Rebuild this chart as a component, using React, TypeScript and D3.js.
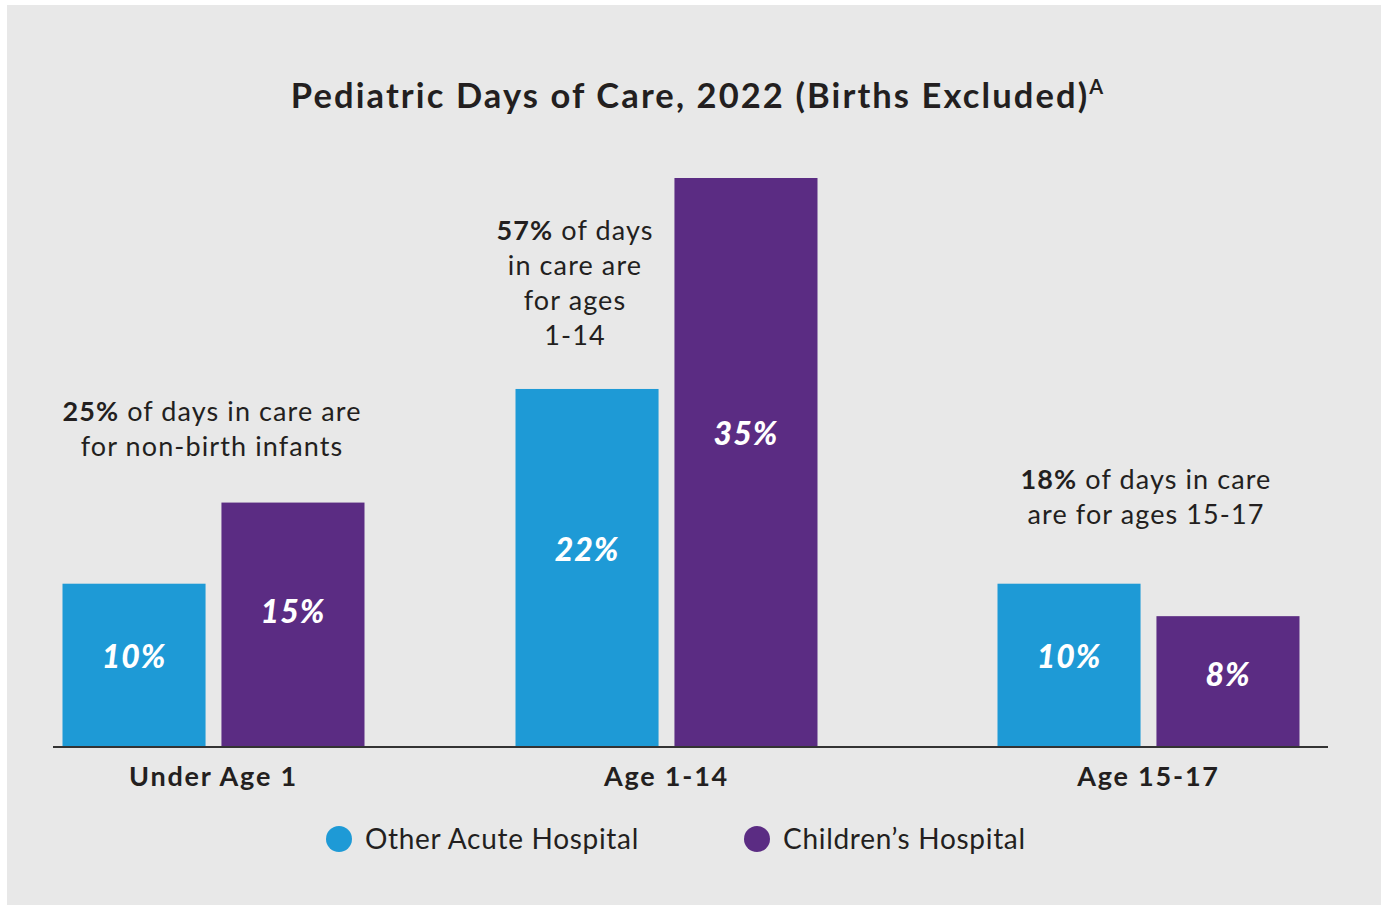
import React from "react";
import * as d3 from "d3";

const categories = ["Under Age 1", "Age 1-14", "Age 15-17"];
const seriesNames = ["Other Acute Hospital", "Children\u2019s Hospital"];
const otherAcute = [10, 22, 10];
const childrens = [15, 35, 8];
const annotationBold = ["25%", "57%", "18%"];
const annotationLines = [
  [" of days in care are", "for non-birth infants"],
  [" of days", "in care are", "for ages", "1-14"],
  [" of days in care", "are for ages 15-17"],
];

const W = 1383;
const H = 905;
const FONT = "Lato, 'Open Sans', sans-serif";
const TEXT = "#231f20";
const COLORS = ["#1e9ad6", "#5b2c83"];

export default function App() {
  const baseY = 746;
  const y = d3.scaleLinear().domain([0, 35]).range([baseY, 178]);
  const groupX = d3.scaleOrdinal<string, number>().domain(categories).range([213.5, 666.5, 1148.5]);
  const inner = d3.scaleBand().domain(["0", "1"]).range([-151, 151]).paddingInner(0.1).paddingOuter(0);
  const bw = inner.bandwidth();
  const series = [otherAcute, childrens];
  const fmt = (v: number) => `${v}%`;

  const annoPos = [
    { x: 212, y: 421 },
    { x: 575, y: 240 },
    { x: 1146, y: 489 },
  ];

  return (
    <svg width={W} height={H} style={{ position: "absolute", left: 0, top: 0 }}>
      <rect x={0} y={0} width={W} height={H} fill="#ffffff" />
      <rect x={7} y={5} width={1374} height={900} fill="#e8e8e8" />
      <text x={697} y={108} textAnchor="middle" fontFamily={FONT} fontWeight={700} fontSize={34.5} letterSpacing={2.1} fill={TEXT}>
        Pediatric Days of Care, 2022 (Births Excluded)
        <tspan fontSize={20} dy={-14} letterSpacing={0}>A</tspan>
      </text>
      {categories.map((c, ci) =>
        series.map((s, si) => {
          const x0 = groupX(c) + (inner(String(si)) as number);
          const v = s[ci];
          return (
            <g key={c + si}>
              <rect x={x0} y={y(v)} width={bw} height={baseY - y(v)} fill={COLORS[si]} />
              <text
                x={x0 + bw / 2}
                y={y(v * 0.55)}
                dy="0.35em"
                textAnchor="middle"
                fontFamily={FONT}
                fontWeight={900}
                fontStyle="italic"
                fontSize={32}
                letterSpacing={1}
                fill="#ffffff"
              >
                {fmt(v)}
              </text>
            </g>
          );
        })
      )}
      <line x1={53} x2={1328} y1={baseY + 1} y2={baseY + 1} stroke="#333333" strokeWidth={2} />
      {categories.map((c) => (
        <text key={c} x={groupX(c)} y={786} textAnchor="middle" fontFamily={FONT} fontWeight={700} fontSize={27} letterSpacing={1.8} fill={TEXT}>
          {c}
        </text>
      ))}
      {annotationLines.map((lines, ai) => (
        <text key={ai} textAnchor="middle" fontFamily={FONT} fontSize={27} letterSpacing={1.1} fill={TEXT}>
          {lines.map((ln, li) => (
            <tspan key={li} x={annoPos[ai].x} y={annoPos[ai].y + li * 35}>
              {li === 0 ? <tspan fontWeight={700}>{annotationBold[ai]}</tspan> : null}
              {ln}
            </tspan>
          ))}
        </text>
      ))}
      {seriesNames.map((n, i) => {
        const lx = [339, 757][i];
        return (
          <g key={n}>
            <circle cx={lx} cy={839} r={13} fill={COLORS[i]} />
            <text x={lx + 26} y={849} fontFamily={FONT} fontSize={28} letterSpacing={0.7} fill={TEXT}>
              {n}
            </text>
          </g>
        );
      })}
    </svg>
  );
}
